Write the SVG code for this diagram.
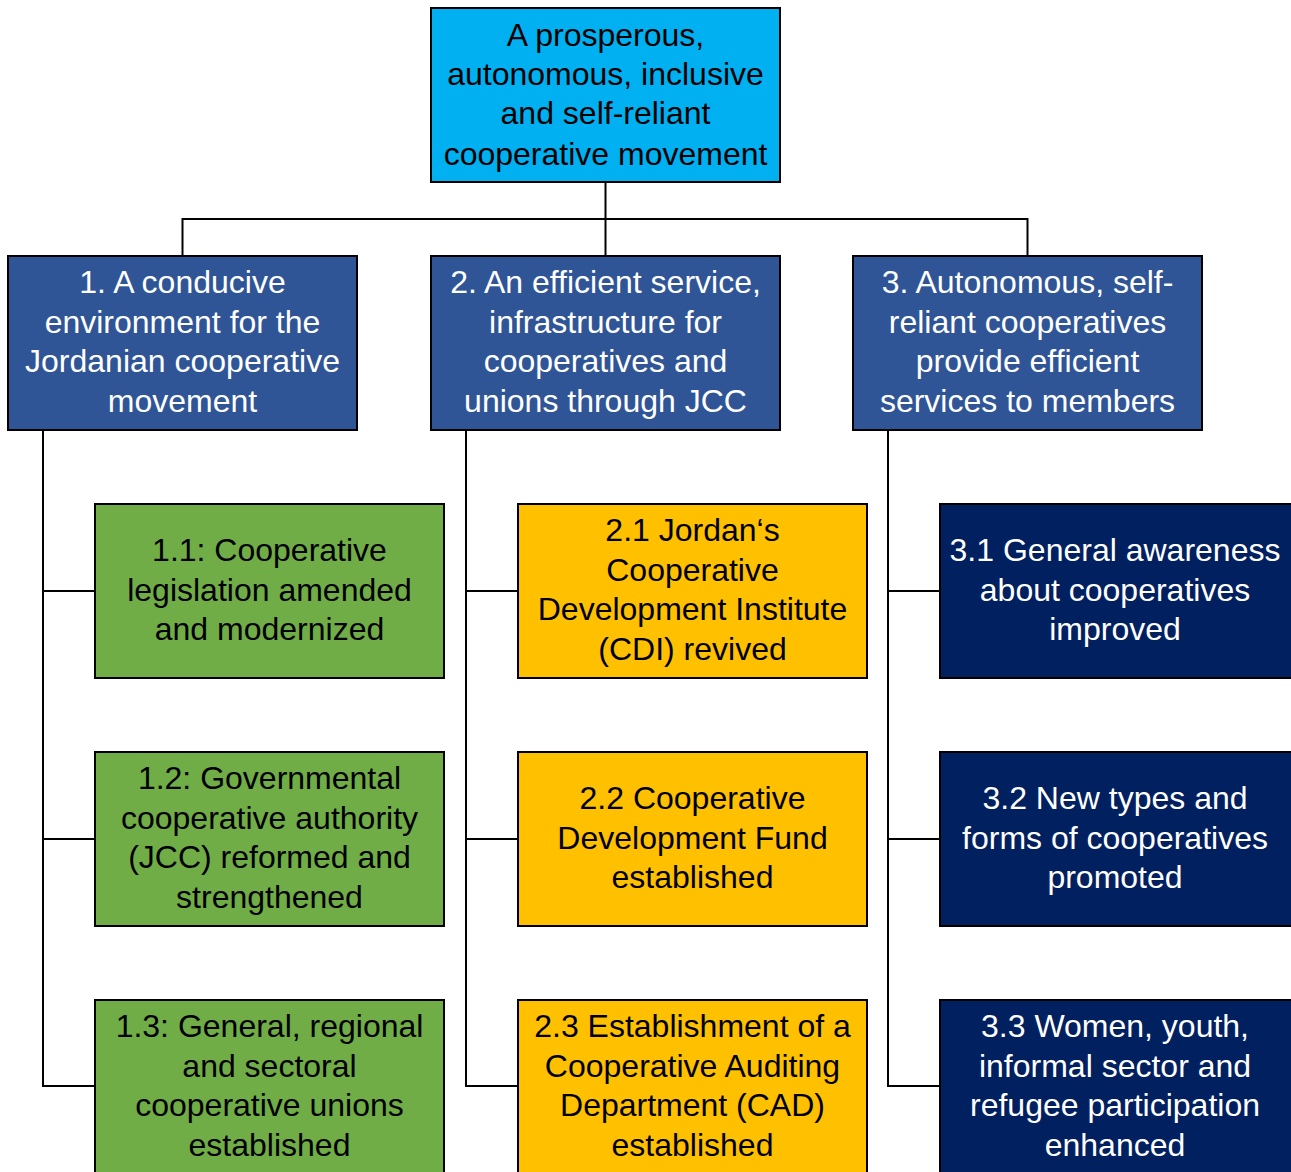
<svg xmlns="http://www.w3.org/2000/svg" width="1291" height="1172" viewBox="0 0 1291 1172">
<style>
.box{stroke:#000;stroke-width:2}
.top{fill:#00B0F0}
.l1{fill:#2F5597}
.g{fill:#70AD47}
.y{fill:#FFC000}
.n{fill:#002060}
text{font-family:"Liberation Sans",Arial,sans-serif;font-size:32px;text-anchor:middle}
.dk{fill:#000}
.wt{fill:#fff}
.conn line{stroke:#000;stroke-width:2}
</style>
<rect width="1291" height="1172" fill="#fff"/>
<g class="conn">
<line x1="605.5" y1="182" x2="605.5" y2="256"/>
<line x1="182.5" y1="219" x2="1027.5" y2="219"/>
<line x1="182.5" y1="218" x2="182.5" y2="256"/>
<line x1="1027.5" y1="218" x2="1027.5" y2="256"/>
<line x1="43" y1="430" x2="43" y2="1087"/>
<line x1="42" y1="591" x2="95" y2="591"/>
<line x1="42" y1="839" x2="95" y2="839"/>
<line x1="42" y1="1086" x2="95" y2="1086"/>
<line x1="466" y1="430" x2="466" y2="1087"/>
<line x1="465" y1="591" x2="518" y2="591"/>
<line x1="465" y1="839" x2="518" y2="839"/>
<line x1="465" y1="1086" x2="518" y2="1086"/>
<line x1="888" y1="430" x2="888" y2="1087"/>
<line x1="887" y1="591" x2="940" y2="591"/>
<line x1="887" y1="839" x2="940" y2="839"/>
<line x1="887" y1="1086" x2="940" y2="1086"/>
</g>
<g id="goal">
<rect class="box top" x="431" y="8" width="349" height="174"/>
<text class="dk" x="605.5" y="46">A prosperous,</text>
<text class="dk" x="605.5" y="85">autonomous, inclusive</text>
<text class="dk" x="605.5" y="124">and self-reliant</text>
<text class="dk" x="605.5" y="165">cooperative movement</text>
</g>
<g id="o1">
<rect class="box l1" x="8" y="256" width="349" height="174"/>
<text class="wt" x="182.5" y="293">1. A conducive</text>
<text class="wt" x="182.5" y="333">environment for the</text>
<text class="wt" x="182.5" y="372">Jordanian cooperative</text>
<text class="wt" x="182.5" y="412">movement</text>
</g>
<g id="o2">
<rect class="box l1" x="431" y="256" width="349" height="174"/>
<text class="wt" x="605.5" y="293">2. An efficient service,</text>
<text class="wt" x="605.5" y="333">infrastructure for</text>
<text class="wt" x="605.5" y="372">cooperatives and</text>
<text class="wt" x="605.5" y="412">unions through JCC</text>
</g>
<g id="o3">
<rect class="box l1" x="853" y="256" width="349" height="174"/>
<text class="wt" x="1027.5" y="293">3. Autonomous, self-</text>
<text class="wt" x="1027.5" y="333">reliant cooperatives</text>
<text class="wt" x="1027.5" y="372">provide efficient</text>
<text class="wt" x="1027.5" y="412">services to members</text>
</g>
<g id="o1-1">
<rect class="box g" x="95" y="504" width="349" height="174"/>
<text class="dk" x="269.5" y="561">1.1: Cooperative</text>
<text class="dk" x="269.5" y="601">legislation amended</text>
<text class="dk" x="269.5" y="640">and modernized</text>
</g>
<g id="o1-2">
<rect class="box g" x="95" y="752" width="349" height="174"/>
<text class="dk" x="269.5" y="789">1.2: Governmental</text>
<text class="dk" x="269.5" y="829">cooperative authority</text>
<text class="dk" x="269.5" y="868">(JCC) reformed and</text>
<text class="dk" x="269.5" y="908">strengthened</text>
</g>
<g id="o1-3">
<rect class="box g" x="95" y="1000" width="349" height="180"/>
<text class="dk" x="269.5" y="1037">1.3: General, regional</text>
<text class="dk" x="269.5" y="1077">and sectoral</text>
<text class="dk" x="269.5" y="1116">cooperative unions</text>
<text class="dk" x="269.5" y="1156">established</text>
</g>
<g id="o2-1">
<rect class="box y" x="518" y="504" width="349" height="174"/>
<text class="dk" x="692.5" y="541">2.1 Jordan‘s</text>
<text class="dk" x="692.5" y="581">Cooperative</text>
<text class="dk" x="692.5" y="620">Development Institute</text>
<text class="dk" x="692.5" y="660">(CDI) revived</text>
</g>
<g id="o2-2">
<rect class="box y" x="518" y="752" width="349" height="174"/>
<text class="dk" x="692.5" y="809">2.2 Cooperative</text>
<text class="dk" x="692.5" y="849">Development Fund</text>
<text class="dk" x="692.5" y="888">established</text>
</g>
<g id="o2-3">
<rect class="box y" x="518" y="1000" width="349" height="180"/>
<text class="dk" x="692.5" y="1037">2.3 Establishment of a</text>
<text class="dk" x="692.5" y="1077">Cooperative Auditing</text>
<text class="dk" x="692.5" y="1116">Department (CAD)</text>
<text class="dk" x="692.5" y="1156">established</text>
</g>
<g id="o3-1">
<rect class="box n" x="940" y="504" width="356" height="174"/>
<text class="wt" x="1115" y="561">3.1 General awareness</text>
<text class="wt" x="1115" y="601">about cooperatives</text>
<text class="wt" x="1115" y="640">improved</text>
</g>
<g id="o3-2">
<rect class="box n" x="940" y="752" width="356" height="174"/>
<text class="wt" x="1115" y="809">3.2 New types and</text>
<text class="wt" x="1115" y="849">forms of cooperatives</text>
<text class="wt" x="1115" y="888">promoted</text>
</g>
<g id="o3-3">
<rect class="box n" x="940" y="1000" width="356" height="180"/>
<text class="wt" x="1115" y="1037">3.3 Women, youth,</text>
<text class="wt" x="1115" y="1077">informal sector and</text>
<text class="wt" x="1115" y="1116">refugee participation</text>
<text class="wt" x="1115" y="1156">enhanced</text>
</g>
</svg>
